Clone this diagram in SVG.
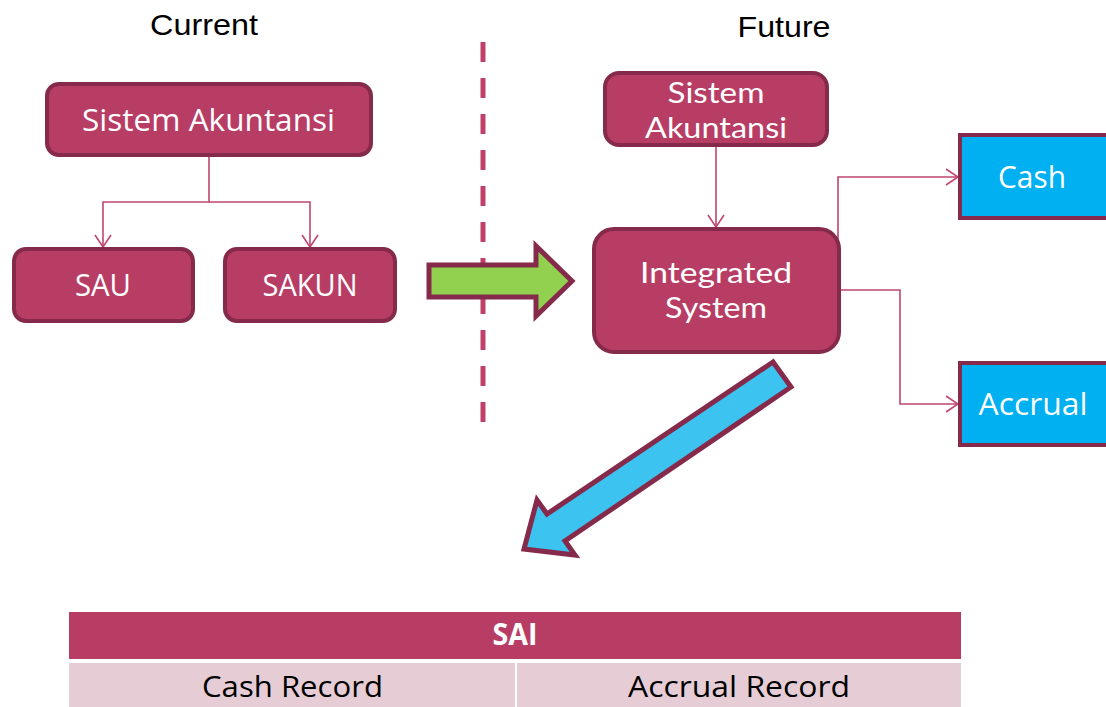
<svg xmlns="http://www.w3.org/2000/svg" width="1106" height="707" viewBox="0 0 1106 707">
<defs>
<style>
.node{fill:#B83D65;stroke:#862A4B;stroke-width:4}
.blue{fill:#00B0F0;stroke:#862A4B;stroke-width:4}
.nt{font-family:"Open Sans","DejaVu Sans",sans-serif;font-size:31px;fill:#FFFFFF;text-anchor:middle}
.nt2{font-family:Lato,"Open Sans",sans-serif;font-size:28px;fill:#FFFFFF;text-anchor:middle}
.title{font-family:"Liberation Sans",Arial,sans-serif;font-size:30px;fill:#000000;text-anchor:middle}
.conn{fill:none;stroke:#C0456F;stroke-width:1.6}
.tt{font-family:"Open Sans","DejaVu Sans",sans-serif;font-size:30px;text-anchor:middle}
</style>
<marker id="arr" markerUnits="userSpaceOnUse" markerWidth="14" markerHeight="18" viewBox="0 0 14 18" refX="13" refY="9" orient="auto">
<path d="M1,1 L13,9 L1,17" fill="none" stroke="#C0456F" stroke-width="1.6"/>
</marker>
</defs>
<rect width="1106" height="707" fill="#FFFFFF"/>

<text class="title" x="204" y="35" textLength="108" lengthAdjust="spacingAndGlyphs">Current</text>
<text class="title" x="784" y="37" textLength="93" lengthAdjust="spacingAndGlyphs">Future</text>

<line x1="483" y1="42" x2="483" y2="425" stroke="#C0406A" stroke-width="5" stroke-dasharray="20 16"/>

<g id="connectors">
<path class="conn" d="M209,157 V202 H103 V247" marker-end="url(#arr)"/>
<path class="conn" d="M209,202 H310 V247" marker-end="url(#arr)"/>
<path class="conn" d="M716,147 V227" marker-end="url(#arr)"/>
<path class="conn" d="M838,300 V177 H958" marker-end="url(#arr)"/>
<path class="conn" d="M841,290 H900 V404 H958" marker-end="url(#arr)"/>
</g>

<g id="cur-sistem">
<rect class="node" x="47" y="84" width="324" height="71" rx="12"/>
<text class="nt" x="208.5" y="131" textLength="253" lengthAdjust="spacingAndGlyphs">Sistem Akuntansi</text>
</g>
<g id="sau">
<rect class="node" x="14" y="249" width="179" height="72" rx="12"/>
<text class="nt" x="103" y="296" textLength="56" lengthAdjust="spacingAndGlyphs">SAU</text>
</g>
<g id="sakun">
<rect class="node" x="225" y="249" width="170" height="72" rx="12"/>
<text class="nt" x="310" y="296" textLength="95" lengthAdjust="spacingAndGlyphs">SAKUN</text>
</g>

<g id="green-arrow">
<polygon points="429,265 536,265 536,246 572,281 536,316 536,297 429,297" fill="#92D050" stroke="#862A4B" stroke-width="5" stroke-linejoin="miter"/>
</g>

<g id="fut-sistem">
<rect class="node" x="605" y="73" width="222" height="72" rx="14"/>
<text class="nt2" x="716" y="103" textLength="97" lengthAdjust="spacingAndGlyphs">Sistem</text>
<text class="nt2" x="716" y="138" textLength="142" lengthAdjust="spacingAndGlyphs">Akuntansi</text>
</g>
<g id="integrated">
<rect class="node" x="594" y="229" width="245" height="123" rx="20"/>
<text class="nt2" x="716" y="283" textLength="152" lengthAdjust="spacingAndGlyphs">Integrated</text>
<text class="nt2" x="716" y="318" textLength="102" lengthAdjust="spacingAndGlyphs">System</text>
</g>
<g id="cash">
<rect class="blue" x="960" y="135" width="160" height="83"/>
<text class="nt" x="1032" y="188" textLength="68" lengthAdjust="spacingAndGlyphs">Cash</text>
</g>
<g id="accrual">
<rect class="blue" x="960" y="363" width="160" height="82"/>
<text class="nt" x="1033" y="415" textLength="109" lengthAdjust="spacingAndGlyphs">Accrual</text>
</g>

<g id="blue-arrow">
<polygon points="773,362 547,514 537,500 524,549 575,555 565,541 791,387" fill="#3DC3F0" stroke="#862A4B" stroke-width="5" stroke-linejoin="miter"/>
</g>

<g id="sai-table">
<rect x="69" y="612" width="892" height="47" fill="#B83D65"/>
<rect x="69" y="663" width="892" height="44" fill="#E6CDD5"/>
<line x1="516" y1="663" x2="516" y2="707" stroke="#FFFFFF" stroke-width="2"/>
<text class="tt" x="515" y="645" fill="#FFFFFF" font-weight="bold" font-size="26" textLength="45" lengthAdjust="spacingAndGlyphs">SAI</text>
<text class="tt" x="292.5" y="697" fill="#000000" textLength="181" lengthAdjust="spacingAndGlyphs">Cash Record</text>
<text class="tt" x="739" y="697" fill="#000000" textLength="222" lengthAdjust="spacingAndGlyphs">Accrual Record</text>
</g>
</svg>
